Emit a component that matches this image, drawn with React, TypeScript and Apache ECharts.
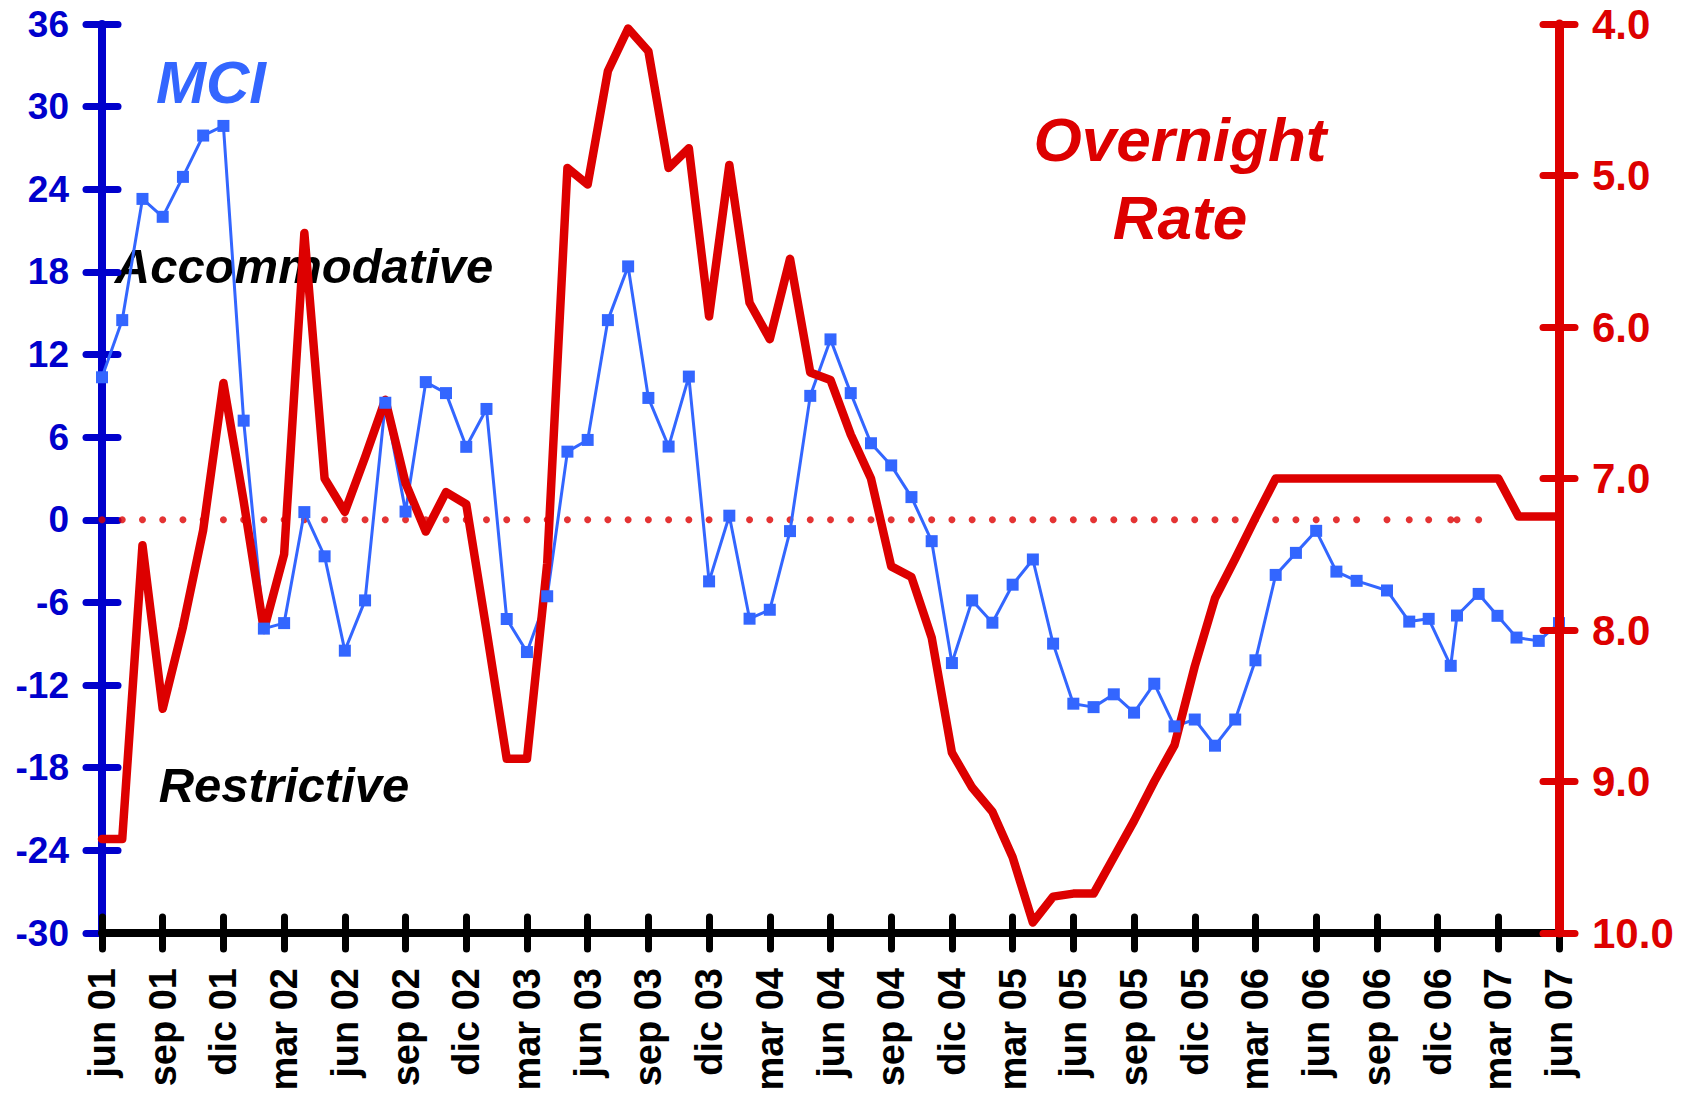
import React, { useEffect, useRef } from "react";
import * as echarts from "echarts";

// x positions are months counted from jun 01 (0) to jun 07 (72)
const xTickLabels = [
  "jun 01", "sep 01", "dic 01", "mar 02", "jun 02", "sep 02", "dic 02", "mar 03",
  "jun 03", "sep 03", "dic 03", "mar 04", "jun 04", "sep 04", "dic 04", "mar 05",
  "jun 05", "sep 05", "dic 05", "mar 06", "jun 06", "sep 06", "dic 06", "mar 07", "jun 07",
];

const mciMonths = [
  0, 1, 2, 3, 4, 5, 6, 7, 8, 9,
  10, 11, 12, 13, 14, 15, 16, 17, 18, 19,
  20, 21, 22, 23, 24, 25, 26, 27, 28, 29,
  30, 31, 32, 33, 34, 35, 36, 37, 38, 39,
  40, 41, 42, 43, 44, 45, 46, 47, 48, 49,
  50, 51, 52, 53, 54, 55, 56, 57, 58, 59,
  60, 61, 62,
  63.5, 64.6, 65.56, 66.65, 66.96, 68.03, 68.96, 69.9, 71.0, 72,
];

const mciValues = [
  10.35, 14.5, 23.3, 22.0, 24.9, 27.9, 28.6, 7.2, -7.9, -7.5,
  0.56, -2.65, -9.5, -5.85, 8.5, 0.6, 10.0, 9.2, 5.3, 8.05,
  -7.2, -9.6, -5.55, 4.95, 5.8, 14.5, 18.4, 8.85, 5.32, 10.4,
  -4.47, 0.3, -7.18, -6.53, -0.82, 9.0, 13.1, 9.2, 5.56, 3.95,
  1.65, -1.55, -10.4, -5.85, -7.47, -4.71, -2.88, -8.99, -13.35, -13.6,
  -12.67, -14.0, -11.9, -15.0, -14.5, -16.4, -14.5, -10.2, -4.0, -2.4,
  -0.8, -3.76, -4.43,
  -5.13, -7.39, -7.19, -10.6, -6.95, -5.38, -6.97, -8.55, -8.79, -7.5,
];

// dotted zero line: red dots at the MCI dates up to early 2007
const zeroDotMonths = [
  0, 1, 2, 3, 4, 5, 6, 7, 8, 9,
  10, 11, 12, 13, 14, 15, 16, 17, 18, 19,
  20, 21, 22, 23, 24, 25, 26, 27, 28, 29,
  30, 31, 32, 33, 34, 35, 36, 37, 38, 39,
  40, 41, 42, 43, 44, 45, 46, 47, 48, 49,
  50, 51, 52, 53, 54, 55, 56, 57, 58, 59,
  60, 61, 62, 63.5, 64.6, 65.56, 66.65, 66.96, 68.03,
];

const rateMonths = [
  0, 1, 2, 3, 4, 5, 6, 7, 8, 9,
  10, 11, 12, 13, 14, 15, 16, 17, 18, 19,
  20, 21, 22, 23, 24, 25, 26, 27, 28, 29,
  30, 31, 32, 33, 34, 35, 36, 37, 38, 39,
  40, 41, 42, 43, 44, 45, 46, 47, 48, 49,
  50, 51, 52, 53, 54, 55, 56, 57, 58, 59,
  60, 61, 62, 63, 64, 65, 66, 67, 68, 69,
  70, 71, 72,
];

const rateValues = [
  9.38, 9.38, 7.44, 8.52, 7.98, 7.34, 6.37, 7.15, 8.0, 7.5,
  5.38, 7.0, 7.22, 6.86, 6.48, 7.03, 7.35, 7.09, 7.17, 8.0,
  8.85, 8.85, 7.56, 4.95, 5.06, 4.31, 4.03, 4.18, 4.95, 4.82,
  5.93, 4.93, 5.84, 6.08, 5.55, 6.3, 6.35, 6.71, 7.0, 7.58,
  7.65, 8.05, 8.81, 9.04, 9.2, 9.5, 9.93, 9.76, 9.74, 9.74,
  9.5, 9.26, 9.0, 8.76, 8.24, 7.79, 7.53, 7.26, 7.0, 7.0,
  7.0, 7.0, 7.0, 7.0, 7.0, 7.0, 7.0, 7.0, 7.0, 7.0,
  7.25, 7.25, 7.25,
];

const FONT = '"Liberation Sans", Arial, sans-serif';
const BLUE_AXIS = "#0000CC";
const MCI_BLUE = "#3366FF";
const RED = "#DD0000";

export default function App() {
  const ref = useRef<HTMLDivElement>(null);

  useEffect(() => {
    if (!ref.current) return;
    const chart = echarts.init(ref.current, null, { renderer: "svg" });

    const tickStyle = (color: string) => ({ color, width: 7, cap: "round" as const });

    const option: any = {
      animation: false,
      backgroundColor: "#ffffff",
      grid: {
        left: 102,
        right: 127,
        top: 24,
        bottom: 160,
        containLabel: false,
        outerBoundsMode: "none",
      },
      xAxis: [
        {
          type: "value",
          min: 0,
          max: 72,
          interval: 3,
          position: "bottom",
          z: 1,
          axisLine: { show: true, onZero: false, lineStyle: { color: "#000", width: 8 } },
          axisTick: { show: true, length: 16, lineStyle: tickStyle("#000") },
          axisLabel: {
            rotate: 90,
            margin: 35,
            color: "#000",
            fontSize: 38,
            fontWeight: "bold",
            fontFamily: FONT,
            formatter: (v: number) => xTickLabels[Math.round(v / 3)] ?? "",
          },
          splitLine: { show: false },
        },
        {
          type: "value",
          min: 0,
          max: 72,
          interval: 3,
          position: "bottom",
          z: 1,
          axisLine: { show: false, onZero: false },
          axisTick: { show: true, inside: true, length: 16, lineStyle: tickStyle("#000") },
          axisLabel: { show: false },
          splitLine: { show: false },
        },
      ],
      yAxis: [
        {
          type: "value",
          min: -30,
          max: 36,
          interval: 6,
          position: "left",
          z: 0,
          axisLine: { show: true, onZero: false, lineStyle: { color: BLUE_AXIS, width: 8 } },
          axisTick: { show: true, length: 16, lineStyle: tickStyle(BLUE_AXIS) },
          axisLabel: {
            margin: 33,
            color: BLUE_AXIS,
            fontSize: 37,
            fontWeight: "bold",
            fontFamily: FONT,
          },
          splitLine: { show: false },
        },
        {
          type: "value",
          min: 4,
          max: 10,
          interval: 1,
          inverse: true,
          position: "right",
          z: 5,
          axisLine: { show: true, onZero: false, lineStyle: { color: RED, width: 9 } },
          axisTick: { show: true, length: 16, lineStyle: tickStyle(RED) },
          axisLabel: {
            margin: 33,
            color: RED,
            fontSize: 42,
            fontWeight: "bold",
            fontFamily: FONT,
            formatter: (v: number) => v.toFixed(1),
          },
          splitLine: { show: false },
        },
        {
          type: "value",
          min: -30,
          max: 36,
          interval: 6,
          position: "left",
          z: 0,
          axisLine: { show: false, onZero: false },
          axisTick: { show: true, inside: true, length: 16, lineStyle: tickStyle(BLUE_AXIS) },
          axisLabel: { show: false },
          splitLine: { show: false },
        },
        {
          type: "value",
          min: 4,
          max: 10,
          interval: 1,
          inverse: true,
          position: "right",
          z: 5,
          axisLine: { show: false, onZero: false },
          axisTick: { show: true, inside: true, length: 16, lineStyle: tickStyle(RED) },
          axisLabel: { show: false },
          splitLine: { show: false },
        },
      ],
      series: [
        {
          name: "zero",
          type: "scatter",
          xAxisIndex: 0,
          yAxisIndex: 0,
          data: zeroDotMonths.map((m) => [m, 0]),
          symbol: "circle",
          symbolSize: 7,
          itemStyle: { color: RED },
          z: 2,
          silent: true,
        },
        {
          name: "MCI",
          type: "line",
          xAxisIndex: 0,
          yAxisIndex: 0,
          data: mciMonths.map((m, i) => [m, mciValues[i]]),
          symbol: "rect",
          symbolSize: 12,
          showSymbol: true,
          showAllSymbol: true,
          lineStyle: { color: MCI_BLUE, width: 3 },
          itemStyle: { color: MCI_BLUE },
          z: 3,
          silent: true,
        },
        {
          name: "Overnight Rate",
          type: "line",
          xAxisIndex: 0,
          yAxisIndex: 1,
          data: rateMonths.map((m, i) => [m, rateValues[i]]),
          symbol: "none",
          lineStyle: { color: RED, width: 8.5, join: "round", cap: "round" },
          z: 3,
          silent: true,
        },
      ],
      graphic: [
        {
          type: "text",
          x: 211,
          y: 82,
          style: {
            text: "MCI",
            font: `italic bold 60px ${FONT}`,
            fill: MCI_BLUE,
            align: "center",
            verticalAlign: "middle",
          },
        },
        {
          type: "text",
          x: 304,
          y: 266,
          style: {
            text: "Accommodative",
            font: `italic bold 49px ${FONT}`,
            fill: "#000",
            align: "center",
            verticalAlign: "middle",
          },
        },
        {
          type: "text",
          x: 284,
          y: 785,
          style: {
            text: "Restrictive",
            font: `italic bold 49px ${FONT}`,
            fill: "#000",
            align: "center",
            verticalAlign: "middle",
          },
        },
        {
          type: "text",
          x: 1180,
          y: 139,
          style: {
            text: "Overnight",
            font: `italic bold 62px ${FONT}`,
            fill: RED,
            align: "center",
            verticalAlign: "middle",
          },
        },
        {
          type: "text",
          x: 1180,
          y: 217,
          style: {
            text: "Rate",
            font: `italic bold 62px ${FONT}`,
            fill: RED,
            align: "center",
            verticalAlign: "middle",
          },
        },
      ],
    };

    chart.setOption(option);
    return () => chart.dispose();
  }, []);

  return (
    <div
      ref={ref}
      style={{
        position: "fixed",
        left: 0,
        top: 0,
        width: 1686,
        height: 1093,
        background: "#ffffff",
      }}
    />
  );
}
